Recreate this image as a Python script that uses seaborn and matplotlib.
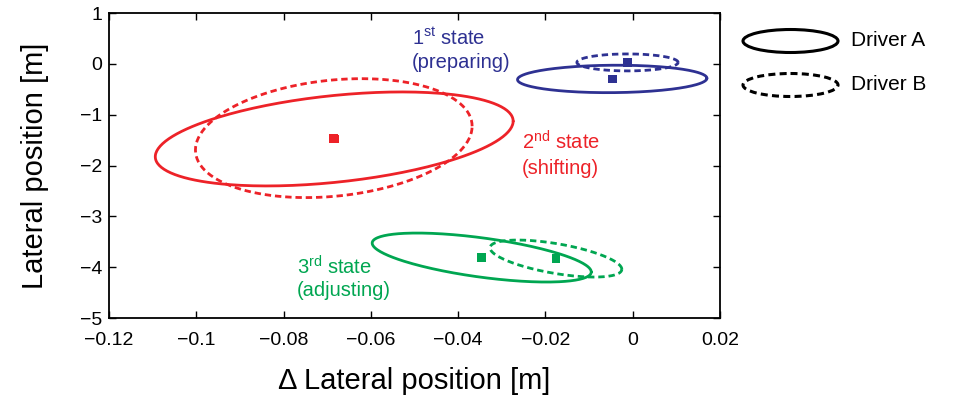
import numpy as np
import pandas as pd
import matplotlib
matplotlib.use("Agg")
import matplotlib.pyplot as plt
import seaborn as sns
from matplotlib.patches import Ellipse

# ---------------- data ----------------
states = ["1st", "2nd", "3rd"]
state_colors = ["#2e3192", "#ed2228", "#00a651"]

# Driver A ellipses (center, spread, correlation)
center_x_A = [-0.0047, -0.0684, -0.0346]
center_y_A = [-0.295, -1.476, -3.81]
spread_x_A = [0.0217, 0.041, 0.0251]
spread_y_A = [0.27, 0.925, 0.482]
rho_A = [0.05, 0.378, -0.59]

# Driver B ellipses
center_x_B = [-0.0012, -0.0685, -0.0176]
center_y_B = [0.03, -1.46, -3.83]
spread_x_B = [0.0116, 0.0317, 0.0151]
spread_y_B = [0.167, 1.17, 0.364]
rho_B = [0.0, 0.2, -0.58]

x_ticks = [-0.12, -0.10, -0.08, -0.06, -0.04, -0.02, 0.0, 0.02]
x_tick_labels = ["\u22120.12", "\u22120.1", "\u22120.08", "\u22120.06", "\u22120.04", "\u22120.02", "0", "0.02"]
y_ticks = [-5, -4, -3, -2, -1, 0, 1]
y_tick_labels = ["\u22125", "\u22124", "\u22123", "\u22122", "\u22121", "0", "1"]

state_titles = ["1$^{\\mathrm{st}}$ state", "2$^{\\mathrm{nd}}$ state", "3$^{\\mathrm{rd}}$ state"]
state_subtitles = ["(preparing)", "(shifting)", "(adjusting)"]
drivers = ["Driver A", "Driver B"]

# ---------------- build tables ----------------
t = np.linspace(0, 2 * np.pi, 241)
rows = []
centers = []
for drv, cx, cy, sx, sy, rh in [
    ("Driver A", center_x_A, center_y_A, spread_x_A, spread_y_A, rho_A),
    ("Driver B", center_x_B, center_y_B, spread_x_B, spread_y_B, rho_B),
]:
    for i, st in enumerate(states):
        xs = cx[i] + sx[i] * np.cos(t)
        ys = cy[i] + sy[i] * (rh[i] * np.cos(t) + np.sqrt(1 - rh[i] ** 2) * np.sin(t))
        rows.append(pd.DataFrame({"x": xs, "y": ys, "state": st, "driver": drv}))
        centers.append({"x": cx[i], "y": cy[i], "state": st, "driver": drv})
df = pd.concat(rows, ignore_index=True)
cdf = pd.DataFrame(centers)
palette = dict(zip(states, state_colors))

# ---------------- plot ----------------
sns.set_theme(style="white")
plt.rcParams["font.family"] = ["Liberation Sans", "DejaVu Sans"]
plt.rcParams["mathtext.fontset"] = "custom"
plt.rcParams["mathtext.rm"] = "Liberation Sans"
plt.rcParams["mathtext.it"] = "Liberation Sans:italic"
plt.rcParams["mathtext.bf"] = "Liberation Sans:bold"

fig = plt.figure(figsize=(9.64, 3.98), dpi=100)
ax = fig.add_axes([0.1131, 0.201, 0.7469 - 0.1131, 0.967 - 0.201])

sns.lineplot(data=df, x="x", y="y", hue="state", style="driver", palette=palette,
             dashes={"Driver A": "", "Driver B": (2.3, 1.4)}, sort=False,
             estimator=None, linewidth=2.0, legend=False, ax=ax)
sns.scatterplot(data=cdf, x="x", y="y", hue="state", palette=palette, marker="s",
                s=40, linewidth=0, legend=False, ax=ax, zorder=3)

ax.set_xlim(-0.12, 0.02)
ax.set_ylim(-5, 1)
ax.set_xticks(x_ticks)
ax.set_xticklabels(x_tick_labels)
ax.set_yticks(y_ticks)
ax.set_yticklabels(y_tick_labels)
ax.tick_params(direction="in", top=True, right=True, bottom=True, left=True,
               length=5, width=1, labelsize=14, colors="black")
ax.tick_params(axis="x", pad=10)
ax.tick_params(axis="y", pad=5)
for sp in ax.spines.values():
    sp.set_color("black")
    sp.set_linewidth(1.3)
ax.set_xlabel("\u0394 Lateral position [m]", fontsize=21, color="black", labelpad=13)
ax.set_ylabel("Lateral position [m]", fontsize=21, color="black", labelpad=22)

# state annotations
text_x = [-0.0506, -0.0254, -0.0769]
text_y1 = [0.51, -1.535, -4.0]
text_y2 = [0.02, -2.05, -4.45]
for i in range(3):
    ax.text(text_x[i], text_y1[i], state_titles[i], color=state_colors[i], fontsize=14.5,
            ha="left", va="center")
    ax.text(text_x[i], text_y2[i], state_subtitles[i], color=state_colors[i], fontsize=14.5,
            ha="left", va="center")

# legend (outside, right)
lax = fig.add_axes([735 / 964, 1 - 105 / 398, 229 / 964, 90 / 398])
lax.set_xlim(0, 229)
lax.set_ylim(90, 0)
lax.axis("off")
leg_y = [26, 70]
for j, drv in enumerate(drivers):
    ls = "-" if j == 0 else (0, (2.3, 1.4))
    e = Ellipse((55.5, leg_y[j]), 95, 23, fill=False, edgecolor="black", linewidth=2.2,
                linestyle=ls)
    lax.add_patch(e)
    lax.text(116, leg_y[j], drv, fontsize=15, ha="left", va="center", color="black")

fig.savefig("out.png", dpi=100)
